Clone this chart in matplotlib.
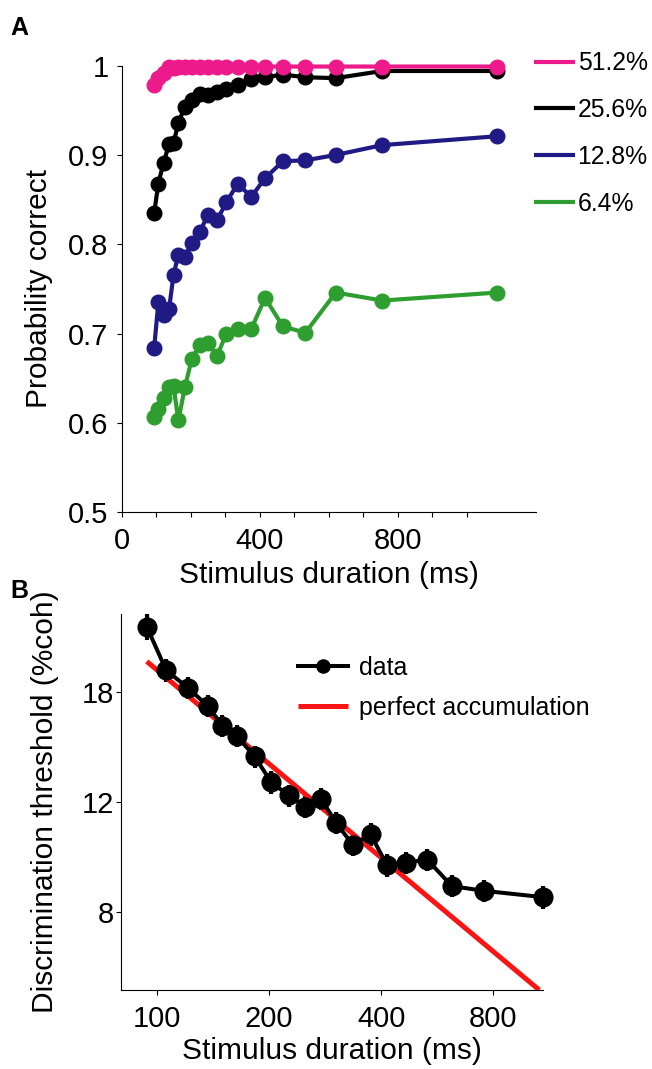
"""
Psychometric data vs. stimulus duration
A: probability correct per coherence, B: discrimination threshold
"""

import numpy as np
import matplotlib
matplotlib.use('Agg')
import matplotlib.pyplot as plt
from matplotlib.ticker import NullLocator
from matplotlib.lines import Line2D

# ---- data ----
durations = [94, 106, 121, 137, 150, 164, 183, 203, 226, 250,
             276, 303, 336, 375, 415, 467, 532, 620, 754, 1088]

p_512 = [0.978, 0.986, 0.992, 0.998, 0.997, 0.998, 0.998, 0.999, 0.998, 0.999,
         0.999, 0.998, 0.999, 0.998, 0.999, 0.999, 0.999, 0.999, 0.999, 0.999]
p_256 = [0.835, 0.868, 0.891, 0.912, 0.913, 0.936, 0.954, 0.962, 0.968, 0.967,
         0.971, 0.974, 0.978, 0.985, 0.987, 0.990, 0.987, 0.986, 0.994, 0.994]
p_128 = [0.684, 0.735, 0.721, 0.727, 0.766, 0.788, 0.786, 0.802, 0.814, 0.833,
         0.827, 0.847, 0.868, 0.853, 0.874, 0.893, 0.894, 0.900, 0.911, 0.921]
p_064 = [0.607, 0.616, 0.628, 0.640, 0.641, 0.603, 0.640, 0.672, 0.687, 0.689,
         0.675, 0.700, 0.705, 0.705, 0.740, 0.708, 0.701, 0.746, 0.737, 0.746]

coh_labels = ['51.2%', '25.6%', '12.8%', '6.4%']

thresh = [22.9, 19.5, 18.3, 17.1, 15.9, 15.3, 14.2, 12.9, 12.3, 11.8,
          12.15, 11.1, 10.25, 10.65, 9.5, 9.6, 9.7, 8.8, 8.65, 8.45]
thresh_err = [1.1, 0.8, 0.75, 0.7, 0.65, 0.62, 0.58, 0.53, 0.5, 0.48,
              0.5, 0.45, 0.42, 0.44, 0.39, 0.39, 0.4, 0.36, 0.35, 0.35]

accum_x = [94, 1063]
accum_y = [20.15, 6.0]

c_pink = '#ec1a8a'
c_black = '#000000'
c_blue = '#201a85'
c_green = '#2f9e30'
c_red = '#fa1414'


def set_plot_pars():
    plt.rc('font', family=['Liberation Sans', 'DejaVu Sans'])
    plt.rcParams.update({
        'font.size': 21,
        'axes.linewidth': 0.8,
        'xtick.major.size': 3.6,
        'ytick.major.size': 3.6,
        'xtick.minor.size': 3.6,
        'xtick.major.width': 0.8,
        'ytick.major.width': 0.8,
        'xtick.minor.width': 0.8,
        'xtick.direction': 'out',
        'ytick.direction': 'out',
    })
    return plt


plt = set_plot_pars()
fig = plt.figure(figsize=(6.52, 10.69), dpi=100)

# ---- panel A ----
axA = fig.add_axes([0.1867, 0.5208, 0.6355, 0.4178])
series = [(p_064, c_green), (p_128, c_blue), (p_256, c_black), (p_512, c_pink)]
for vals, col in series:
    axA.plot(durations, vals, '-o', color=col, lw=3.0, ms=10.5, clip_on=False)

axA.set_xlim(0, 1200)
axA.set_ylim(0.5, 1.0)
axA.set_xticks([0, 400, 800])
axA.set_xticks([100, 200, 300, 500, 600, 700, 900, 1000], minor=True)
axA.set_yticks([0.5, 0.6, 0.7, 0.8, 0.9, 1.0])
axA.set_yticklabels(['0.5', '0.6', '0.7', '0.8', '0.9', '1'])
axA.tick_params(axis='x', which='both', pad=7)
axA.tick_params(axis='y', pad=6)
for s in ['top', 'right']:
    axA.spines[s].set_visible(False)
axA.set_xlabel('Stimulus duration (ms)', fontsize=21.5)
axA.set_ylabel('Probability correct', fontsize=21.5)
axA.xaxis.set_label_coords(0.5, -0.11)
axA.yaxis.set_label_coords(-0.165, 0.5)

leg_lines = [Line2D([], [], color=c, lw=3.0) for c in [c_pink, c_black, c_blue, c_green]]
axA.legend(leg_lines, coh_labels, loc='upper left', bbox_to_anchor=(1.0, 1.032),
           frameon=False, fontsize=17.8, handlelength=1.48, handletextpad=0.2,
           labelspacing=0.92, borderpad=0, borderaxespad=0)

# ---- panel B ----
axB = fig.add_axes([0.1851, 0.0739, 0.6482, 0.3517])
eb = axB.errorbar(durations, thresh, yerr=thresh_err, fmt='-o', color='black',
                  lw=2.9, ms=13.5, elinewidth=3.0, capsize=0, clip_on=False)
for art in eb.lines[2]:
    art.set_clip_on(False)
red, = axB.plot(accum_x, accum_y, '-', color=c_red, lw=3.6, solid_capstyle='butt')
axB.set_xscale('log')
axB.set_yscale('log')
axB.set_xlim(80, 1090)
axB.set_ylim(6, 24)
axB.set_xticks([100, 200, 400, 800])
axB.set_xticklabels(['100', '200', '400', '800'])
axB.set_yticks([8, 12, 18])
axB.set_yticklabels(['8', '12', '18'])
axB.xaxis.set_minor_locator(NullLocator())
axB.yaxis.set_minor_locator(NullLocator())
axB.tick_params(axis='x', pad=7)
axB.tick_params(axis='y', pad=1)
for s in ['top', 'right']:
    axB.spines[s].set_visible(False)
axB.set_xlabel('Stimulus duration (ms)', fontsize=21.5)
axB.set_ylabel('Discrimination threshold (%coh)', fontsize=21.5)
axB.xaxis.set_label_coords(0.5, -0.125)
axB.yaxis.set_label_coords(-0.145, 0.5)
axB.legend([eb.lines[0], red], ['data', 'perfect accumulation'],
           loc='upper left', bbox_to_anchor=(0.42, 0.888), frameon=False,
           fontsize=18, handlelength=2.0, handletextpad=0.45, markerscale=0.7,
           labelspacing=0.62, borderpad=0, borderaxespad=0)

fig.text(10 / 652, 1 - 16 / 1069, 'A', fontsize=18, weight='bold', va='top', ha='left')
fig.text(10 / 652, 1 - 579 / 1069, 'B', fontsize=18, weight='bold', va='top', ha='left')

plt.savefig('out.png', dpi=100)
